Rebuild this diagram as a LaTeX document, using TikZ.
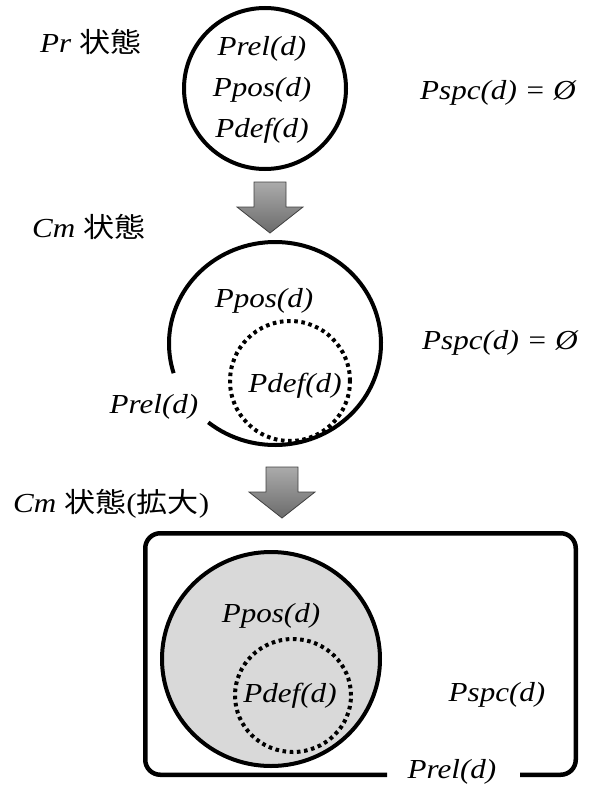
\documentclass[tikz,border=0pt]{standalone}
\usepackage{fontspec}
\usepackage{graphicx}
\newfontfamily\serifit{Liberation Serif Italic}
\newfontfamily\serifup{Liberation Serif}
\newfontfamily\jfont{Noto Sans CJK JP}
\usetikzlibrary{shapes.geometric}

% labels: Times-like italic, set slightly wider than natural
\newcommand{\lab}[1]{\scalebox{1.13}[1]{\serifit #1}}

\tikzset{
  lbl/.style={inner sep=0pt, anchor=base, font=\fontsize{27.5}{30}\selectfont},
  lblw/.style={lbl, anchor=base west},
  setline/.style={line width=4pt, draw=black},
  dotline/.style={line width=4pt, draw=black, dash pattern=on 3.6pt off 3.6pt},
  blockarrow/.style={draw=black!75, line width=0.8pt, top color=black!33, bottom color=black!58},
}

\begin{document}
\begin{tikzpicture}[x=1pt, y=-1pt]
  \useasboundingbox (0,0) rectangle (592,787);

  % ---- Pr state ----
  \node[lblw] (prhead) at (40,52) {\lab{Pr\ {\jfont 状態}}};
  \node[ellipse, setline, inner sep=0pt, minimum width=162pt, minimum height=161pt] (prset) at (265,88.5) {};
  \node[lbl] (prrel) at (262,55) {\lab{Prel(d)}};
  \node[lbl] (prpos) at (262,96) {\lab{Ppos(d)}};
  \node[lbl] (prdef) at (262,137) {\lab{Pdef(d)}};
  \node[lblw] (prspc) at (420,99) {\lab{Pspc(d) = Ø}};

  % ---- arrow Pr -> Cm ----
  \path[blockarrow] (254,182) -- (286,182) -- (286,207) -- (303,207) -- (270,233)
                    -- (237,207) -- (254,207) -- cycle;

  % ---- Cm state ----
  \node[lblw] (cmhead) at (32,237) {\lab{Cm\ {\jfont 状態}}};
  \coordinate (cmc) at (275,343.5);
  \draw[setline] ([shift={(231:106pt and 101.5pt)}]cmc)
        arc[start angle=231, end angle=557, x radius=106pt, y radius=101.5pt];
  \node[circle, dotline, inner sep=0pt, minimum size=120pt] (cmdefset) at (290,381) {};
  \node[lbl] (cmpos) at (264,307) {\lab{Ppos(d)}};
  \node[lbl] (cmdef) at (295,392) {\lab{Pdef(d)}};
  \node[lbl] (cmrel) at (154,413) {\lab{Prel(d)}};
  \node[lblw] (cmspc) at (422,349) {\lab{Pspc(d) = Ø}};

  % ---- arrow Cm -> enlarged Cm ----
  \path[blockarrow] (266,467) -- (298,467) -- (298,492) -- (315,492) -- (282,518)
                    -- (249,492) -- (266,492) -- cycle;

  % ---- Cm state, enlarged ----
  \node[lblw] (cmbighead) at (13,512)
    {\lab{Cm\ {\jfont 状態}{\serifup(}{\jfont 拡大}{\serifup)}}};
  \draw[line width=4.5pt, rounded corners=15pt]
    (387,774.75) -- (145.25,774.75) -- (145.25,533.25) -- (575.75,533.25)
    -- (575.75,774.75) -- (520,774.75);
  \node[ellipse, setline, fill=black!15, inner sep=0pt, minimum width=218pt, minimum height=214pt] (bigpos) at (271,659) {};
  \node[ellipse, dotline, inner sep=0pt, minimum width=116pt, minimum height=113pt] (bigdef) at (293,695.5) {};
  \node[lbl] (bposl) at (271,622) {\lab{Ppos(d)}};
  \node[lbl] (bdefl) at (290,702) {\lab{Pdef(d)}};
  \node[lbl] (bspcl) at (497,701) {\lab{Pspc(d)}};
  \node[lbl] (brell) at (452,778) {\lab{Prel(d)}};
\end{tikzpicture}
\end{document}
